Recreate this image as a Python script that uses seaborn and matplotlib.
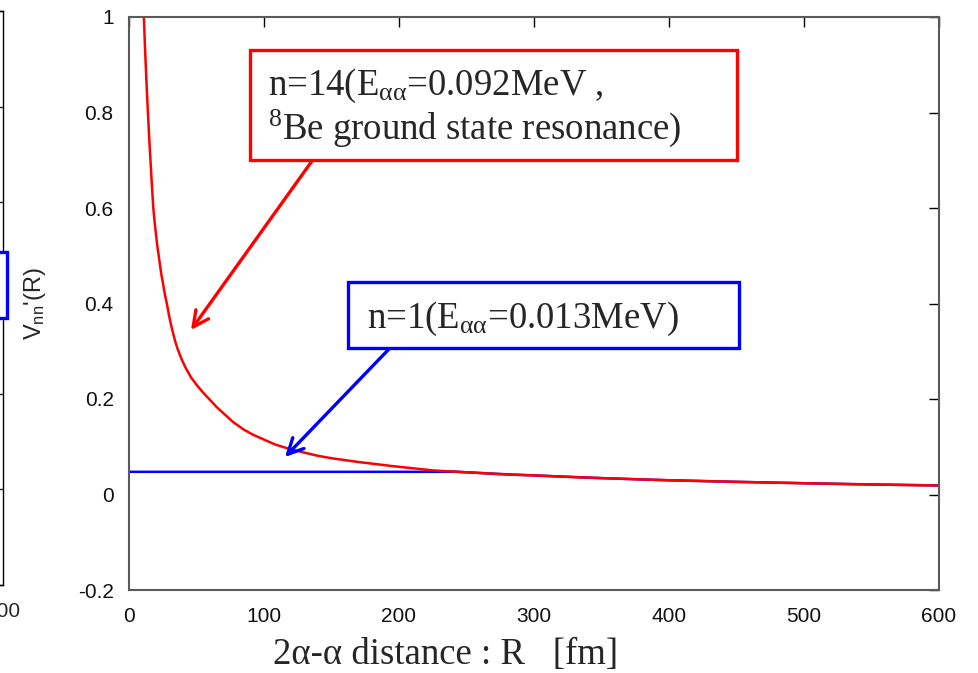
import matplotlib
matplotlib.use("Agg")
import matplotlib.pyplot as plt
import seaborn as sns
import pandas as pd
from matplotlib.patches import Rectangle

# ---- data ----
r_n14 = [9, 10, 11, 12, 13, 14, 15, 16, 17, 18, 19, 20, 21, 22.5, 24, 25, 26.5, 28, 30,
         32, 34, 36, 39, 42, 46, 50, 55, 60, 65, 70, 77, 85, 92, 100, 108, 117, 128,
         140, 150, 160, 170, 182, 195, 210, 225, 240, 255, 270, 285, 300, 325, 350,
         375, 400, 450, 500, 550, 600]
v_n14 = [1.22, 1.10, 1.00, 0.925, 0.86, 0.80, 0.745, 0.695, 0.645, 0.60, 0.57, 0.545,
         0.52, 0.49, 0.46, 0.445, 0.42, 0.40, 0.37, 0.345, 0.323, 0.305, 0.283, 0.265,
         0.245, 0.23, 0.213, 0.198, 0.183, 0.17, 0.152, 0.136, 0.125, 0.115, 0.105,
         0.097, 0.089, 0.081, 0.076, 0.072, 0.068, 0.064, 0.0595, 0.055, 0.0505, 0.048,
         0.0458, 0.0435, 0.0415, 0.040, 0.037, 0.0343, 0.032, 0.0298, 0.0265, 0.0236,
         0.021, 0.0189]
r_n1 = [0, 100, 200, 235, 240, 255, 270, 285, 300, 325, 350, 375, 400, 450, 500, 550, 600]
v_n1 = [0.0475, 0.0475, 0.0475, 0.0475, 0.048, 0.0458, 0.0435, 0.0415, 0.040, 0.037,
        0.0343, 0.032, 0.0298, 0.0265, 0.0236, 0.021, 0.0189]
x_ticks = [0, 100, 200, 300, 400, 500, 600]
y_ticks = [-0.2, 0, 0.2, 0.4, 0.6, 0.8, 1]
y_tick_labels = ["-0.2", "0", "0.2", "0.4", "0.6", "0.8", "1"]
label_n14_1 = "n=14(E$_{\\mathrm{αα}}$=0.092MeV ,"
label_n14_2 = "${}^{8}$Be ground state resonance)"
label_n1 = "n=1(E$_{\\mathrm{αα}}$=0.013MeV)"
x_label = "2α-α distance : R   [fm]"
y_label = "V$_{\\mathsf{nn}}$'(R)"

sns.set_style("white")
plt.rcParams["font.family"] = ["Liberation Sans", "DejaVu Sans"]
plt.rcParams["mathtext.fontset"] = "custom"
plt.rcParams["mathtext.rm"] = "Liberation Serif"
plt.rcParams["mathtext.it"] = "Liberation Serif:italic"
plt.rcParams["mathtext.sf"] = "Liberation Sans"

W, H = 979, 673
fig = plt.figure(figsize=(W / 100, H / 100), dpi=100)

def fx(px):
    return px / W

def fy(py):
    return 1 - py / H

# main axes
ax = fig.add_axes([fx(129), fy(590), fx(939) - fx(129), fy(17) - fy(590)])
df_blue = pd.DataFrame({"R": r_n1, "V": v_n1})
df_red = pd.DataFrame({"R": r_n14, "V": v_n14})
sns.lineplot(data=df_blue, x="R", y="V", ax=ax, color="#0000FF", lw=1.8, sort=False)
sns.lineplot(data=df_red, x="R", y="V", ax=ax, color="#FF0000", lw=1.8, sort=False)
ax.set_xlim(0, 600)
ax.set_ylim(-0.2, 1)
ax.set_xticks(x_ticks)
ax.set_xticklabels([str(v) for v in x_ticks])
ax.set_yticks(y_ticks)
ax.set_yticklabels(y_tick_labels)
ax.set_xlabel("")
ax.set_ylabel("")
for s in ax.spines.values():
    s.set_visible(True)
    s.set_color("#5a5a5a")
    s.set_linewidth(1.5)
ax.tick_params(axis="both", which="both", direction="in", length=7, width=1,
               color="black", top=True, right=True, labelsize=15, labelcolor="#111111")
ax.tick_params(axis="y", pad=11)
ax.tick_params(axis="x", pad=12)

# partial neighbour panel at the far left
ax2 = fig.add_axes([fx(-400), fy(585), fx(3) - fx(-400), fy(11) - fy(585)])
ax2.set_xlim(0, 600)
ax2.set_ylim(-0.2, 1)
ax2.set_yticks(y_ticks)
ax2.set_xticks([600])
ax2.set_xticklabels(["600"])
for k, s in ax2.spines.items():
    s.set_visible(k != "left")
    s.set_color("black")
    s.set_linewidth(1.0)
ax2.tick_params(axis="y", direction="in", left=False, right=True, labelleft=False,
                length=7, width=1)
ax2.tick_params(axis="x", direction="in", length=0, labelsize=15, pad=12)
fig.patches.append(Rectangle((fx(-20), fy(318)), fx(27), fy(252) - fy(318),
                             transform=fig.transFigure, facecolor="white",
                             edgecolor="#0000FF", lw=2.4, zorder=5))

# axis labels
fig.text(fx(35), fy(304), y_label, rotation=90, ha="center", va="center", fontsize=17)
fig.text(fx(446), fy(655), x_label, ha="center", va="center", fontsize=26.5,
         family="Liberation Serif")

# annotation boxes
fig.patches.append(Rectangle((fx(250), fy(160)), fx(737) - fx(250), fy(50) - fy(160),
                             transform=fig.transFigure, facecolor="white",
                             edgecolor="#FF0000", lw=2.4, zorder=5))
fig.patches.append(Rectangle((fx(348), fy(348)), fx(739) - fx(348), fy(282) - fy(348),
                             transform=fig.transFigure, facecolor="white",
                             edgecolor="#0000FF", lw=2.4, zorder=5))
fig.text(fx(268), fy(95), label_n14_1, ha="left", va="baseline", fontsize=26.5,
         family="Liberation Serif", zorder=6)
fig.text(fx(268), fy(139), label_n14_2, ha="left", va="baseline", fontsize=26.5,
         family="Liberation Serif", zorder=6)
fig.text(fx(367), fy(328), label_n1, ha="left", va="baseline", fontsize=26.5,
         family="Liberation Serif", zorder=6)

# arrows
ax.annotate("", xy=(191, H - 330), xycoords="figure pixels",
            xytext=(312, H - 161), textcoords="figure pixels",
            arrowprops=dict(arrowstyle="->", color="#FF0000", lw=2.4,
                            mutation_scale=28, shrinkA=0, shrinkB=0))
ax.annotate("", xy=(285, H - 457), xycoords="figure pixels",
            xytext=(389, H - 349), textcoords="figure pixels",
            arrowprops=dict(arrowstyle="->", color="#0000FF", lw=2.4,
                            mutation_scale=28, shrinkA=0, shrinkB=0))

fig.savefig("out.png", dpi=100)
